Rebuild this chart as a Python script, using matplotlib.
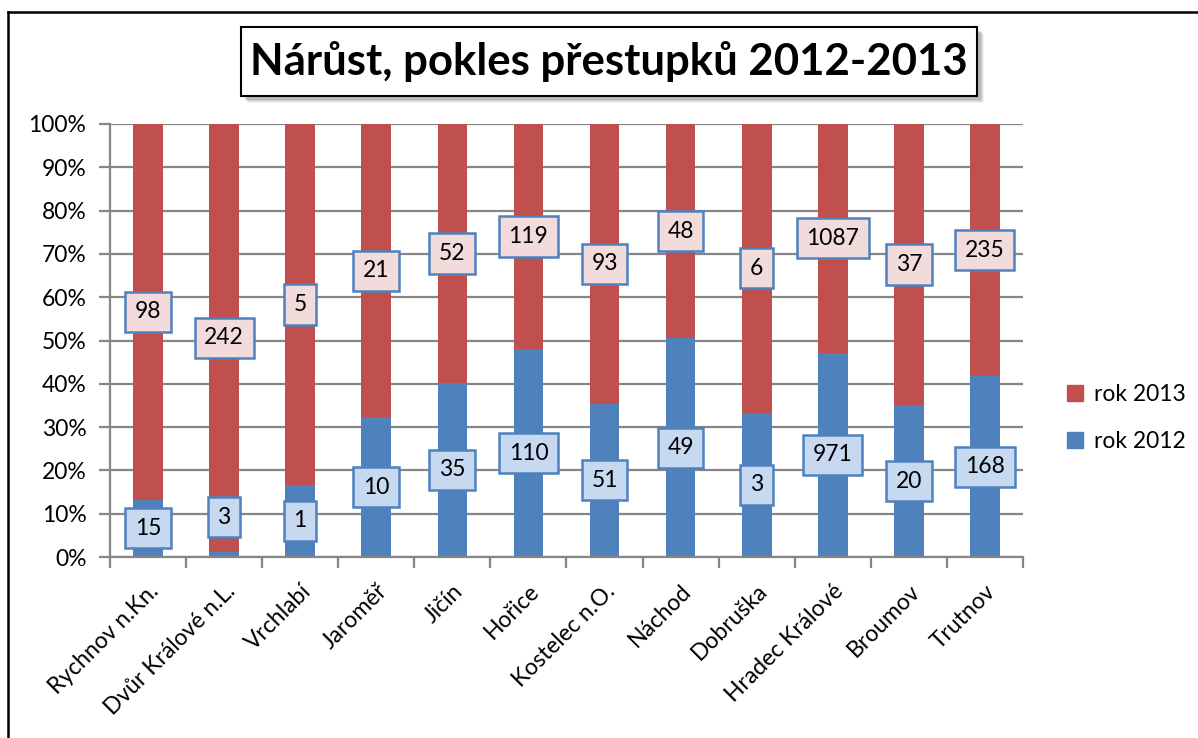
import matplotlib
matplotlib.use("Agg")
import matplotlib.pyplot as plt
import numpy as np
from matplotlib.patches import Rectangle, Patch
from matplotlib.lines import Line2D
from matplotlib.ticker import MultipleLocator, FuncFormatter

categories = ["Rychnov n.Kn.", "Dvůr Králové n.L.", "Vrchlabí", "Jaroměř", "Jičín",
              "Hořice", "Kostelec n.O.", "Náchod", "Dobruška", "Hradec Králové",
              "Broumov", "Trutnov"]
rok_2012 = [15, 3, 1, 10, 35, 110, 51, 49, 3, 971, 20, 168]
rok_2013 = [98, 242, 5, 21, 52, 119, 93, 48, 6, 1087, 37, 235]
title = "Nárůst, pokles přestupků 2012-2013"

RED = "#C0504D"
BLUE = "#4F81BD"
GRID = "#868686"
FONT = ["Lato", "DejaVu Sans"]
FS = 16.5

plt.rcParams["font.family"] = FONT

W, H = 1198, 738
fig = plt.figure(figsize=(W / 100, H / 100), dpi=100)
ax = fig.add_axes([110 / W, 1 - 557 / H, (1023 - 110) / W, (557 - 124) / H])

a = np.array(rok_2012, float)
b = np.array(rok_2013, float)
tot = a + b
pa = a / tot * 100
pb = b / tot * 100
x = np.arange(len(categories))

ax.set_axisbelow(True)
ax.yaxis.grid(True, color=GRID, lw=1.6)
ax.bar(x, pa, width=0.39, color=BLUE, zorder=2)
ax.bar(x, pb, bottom=pa, width=0.39, color=RED, zorder=2)

ax.set_xlim(-0.5, len(categories) - 0.5)
ax.set_ylim(0, 100)
ax.yaxis.set_major_locator(MultipleLocator(10))
ax.yaxis.set_major_formatter(FuncFormatter(lambda v, p: f"{v:.0f}%"))
ax.set_xticks(x)
ax.set_xticklabels(categories, rotation=45, ha="right", va="top",
                   rotation_mode="anchor", fontsize=FS)
ax.set_xticks(np.arange(len(categories) + 1) - 0.5, minor=True)
ax.tick_params(axis="x", which="major", length=0, pad=17)
ax.tick_params(axis="x", which="minor", length=8, width=1.6, color=GRID)
ax.tick_params(axis="y", length=8, width=1.6, color=GRID, labelsize=FS, pad=9)
for s in ["top", "right"]:
    ax.spines[s].set_visible(False)
for s in ["left", "bottom"]:
    ax.spines[s].set_color(GRID)
    ax.spines[s].set_linewidth(1.6)

# labels of very small segments are lifted above the axis
small_seg = 5.0
lifted = 9.2
for i in range(len(categories)):
    ya = pa[i] / 2 if pa[i] >= small_seg else lifted
    yb = pa[i] + pb[i] / 2
    ax.text(x[i], ya, f"{rok_2012[i]}", ha="center", va="center", fontsize=FS, zorder=5,
            bbox=dict(boxstyle="square,pad=0.42", fc="#C6D9F1", ec=BLUE, lw=1.8))
    ax.text(x[i], yb, f"{rok_2013[i]}", ha="center", va="center", fontsize=FS, zorder=5,
            bbox=dict(boxstyle="square,pad=0.42", fc="#F2DCDB", ec=BLUE, lw=1.8))

handles = [Patch(color=RED), Patch(color=BLUE)]
fig.legend(handles, ["rok 2013", "rok 2012"], loc="center left",
           bbox_to_anchor=(1046 / W, 1 - 418 / H), frameon=False, fontsize=FS,
           handlelength=0.7, handleheight=0.7, labelspacing=1.1, handletextpad=0.5)

# figure border
fig.add_artist(Line2D([8 / W, 8 / W], [0, 1 - 12 / H], color="black", lw=1.8,
                      transform=fig.transFigure))
fig.add_artist(Line2D([8 / W, 1], [1 - 12 / H, 1 - 12 / H], color="black", lw=1.8,
                      transform=fig.transFigure))

# title box with shadow
bx0, by0, bx1, by1 = 241, 27, 977, 96
for off, al in [(7, 0.10), (6, 0.15), (5, 0.2), (4, 0.25)]:
    fig.add_artist(Rectangle(((bx0 + off) / W, 1 - (by1 + off) / H), (bx1 - bx0) / W,
                             (by1 - by0) / H, transform=fig.transFigure,
                             fc="#808080", ec="none", alpha=al))
fig.add_artist(Rectangle((bx0 / W, 1 - by1 / H), (bx1 - bx0) / W, (by1 - by0) / H,
                         transform=fig.transFigure, fc="white", ec="black", lw=1.5))
fig.text((bx0 + bx1) / 2 / W, 1 - (by0 + by1) / 2 / H, title, ha="center", va="center",
         fontsize=31.5, fontweight="bold")

fig.savefig("out.png", dpi=100)
